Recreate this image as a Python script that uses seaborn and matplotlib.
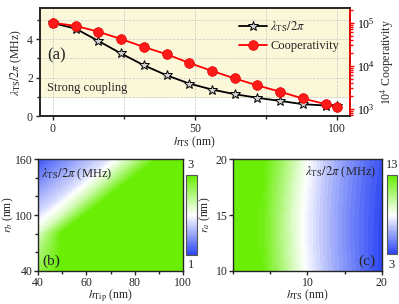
import numpy as np
import pandas as pd
import seaborn as sns
import matplotlib.pyplot as plt
from matplotlib.colors import LinearSegmentedColormap
from matplotlib.ticker import MultipleLocator, LogLocator, NullFormatter

# ---- panel (a) data ----
h_ts = [0, 8, 16, 24, 32, 40, 48, 56, 64, 72, 80, 88, 96, 100]
lam_ts = [4.83, 4.54, 3.90, 3.25, 2.64, 2.12, 1.69, 1.38, 1.14, 0.95, 0.79, 0.62, 0.55, 0.52]
coop = [1.0e5, 8.5e4, 6.2e4, 4.2e4, 2.75e4, 1.86e4, 1.17e4, 7.6e3, 5.1e3, 3.5e3, 2.5e3, 1.74e3, 1.29e3, 1.12e3]

# ---- panel (b) data: lambda_TS/2pi (MHz) vs h_Tip (cols) and r_b (rows) ----
h_tip = [40, 50, 60, 70, 80, 90, 100]
r_b = [40, 60, 80, 100, 120, 140, 160]
lam_b = [
    [2.70, 3.20, 3.60, 3.60, 3.60, 3.60, 3.60],
    [2.50, 3.20, 3.60, 3.60, 3.60, 3.60, 3.60],
    [2.19, 3.03, 3.60, 3.60, 3.60, 3.60, 3.60],
    [1.82, 2.25, 3.08, 3.60, 3.60, 3.60, 3.60],
    [1.57, 1.83, 2.31, 3.14, 3.60, 3.60, 3.60],
    [1.32, 1.59, 1.85, 2.36, 3.19, 3.60, 3.60],
    [1.08, 1.34, 1.61, 1.87, 2.42, 3.25, 3.60],
]

# ---- panel (c) data: lambda_TS/2pi (MHz) vs h_TS (cols) and r_a (rows) ----
h_ts_c = [0, 2, 4, 6, 8, 10, 12, 14, 16, 18, 20]
r_a = [10, 12.5, 15, 17.5, 20]
lam_c = [
    [16.2, 14.5, 12.8, 11.1, 9.3, 7.8, 6.6, 5.6, 4.7, 3.8, 3.0],
    [16.0, 14.3, 12.6, 10.9, 9.1, 7.6, 6.5, 5.5, 4.6, 3.8, 3.0],
    [16.0, 14.3, 12.6, 10.9, 9.0, 7.6, 6.5, 5.5, 4.6, 3.8, 3.1],
    [16.2, 14.5, 12.8, 11.1, 9.3, 7.8, 6.6, 5.6, 4.7, 3.9, 3.2],
    [16.5, 14.9, 13.2, 11.5, 9.8, 8.0, 6.8, 5.8, 4.9, 4.1, 3.4],
]

sns.set_theme(style="ticks")
plt.rcParams['font.family'] = ['Liberation Serif', 'DejaVu Serif']
plt.rcParams['mathtext.fontset'] = 'stix'
plt.rcParams['font.size'] = 8.5
plt.rcParams['xtick.labelsize'] = 8.5
plt.rcParams['ytick.labelsize'] = 8.5
plt.rcParams['axes.labelsize'] = 8.5

cmap = LinearSegmentedColormap.from_list('bwg', ['#2a45f5', '#ffffff', '#66ee00'])

fig = plt.figure(figsize=(3.99, 3.04), dpi=100)

# ================= panel (a) =================
ax = fig.add_axes([0.100, 0.618, 0.777, 0.355])
ax.axhspan(1, 6, color='#fbf8da', zorder=0)
df_a = pd.DataFrame({'h': h_ts, 'lam': lam_ts, 'coop': coop})
sns.lineplot(data=df_a, x='h', y='lam', ax=ax, color='black', lw=1.3,
             marker='*', markersize=7, markerfacecolor='#d0d0d0',
             markeredgecolor='black', markeredgewidth=0.7, label=r'$\lambda_{\rm TS}/2\pi$',
             legend=False, zorder=4)
ax.set_xlim(-4.6, 104.6)
ax.set_ylim(0, 5.6)
ax.set_yticks([0, 2, 4])
ax.yaxis.set_minor_locator(MultipleLocator(1))
ax.set_xticks([0, 50, 100])
ax.xaxis.set_minor_locator(MultipleLocator(25))
ax.grid(True, which='both', ls='--', lw=0.5, color='#c8c8c8')
ax.set_axisbelow(True)
ax.set_xlabel(r'$h_{\rm TS}$ (nm)', labelpad=0)
ax.set_ylabel(r'$\lambda_{\rm TS}/2\pi$ (MHz)', labelpad=2)
for s in ax.spines.values():
    s.set_linewidth(1.2)
ax.tick_params(length=3, width=1, pad=2)
ax.tick_params(which='minor', length=2)
ax.text(0.025, 0.565, '(a)', transform=ax.transAxes, fontsize=12, va='center')
ax.text(0.022, 0.26, 'Strong coupling', transform=ax.transAxes, fontsize=9, va='center')

ax2 = ax.twinx()
sns.lineplot(data=df_a, x='h', y='coop', ax=ax2, color='#ff0000', lw=1.3,
             marker='o', markersize=7, markerfacecolor='#ff1a1a',
             markeredgecolor='#e00000', markeredgewidth=0.5, label='Cooperativity',
             legend=False, zorder=5)
ax2.set_yscale('log')
ax2.set_ylim(10 ** 2.83, 10 ** 5.34)
ax2.yaxis.set_major_locator(LogLocator(base=10, numticks=10))
ax2.yaxis.set_minor_locator(LogLocator(base=10, subs=np.arange(2, 10), numticks=20))
ax2.yaxis.set_minor_formatter(NullFormatter())
ax2.spines['right'].set_color('#ff0000')
ax2.spines['right'].set_linewidth(1.2)
ax2.tick_params(axis='y', colors='#ff0000', labelcolor='black', length=3, width=1, pad=2)
ax2.tick_params(axis='y', which='minor', colors='#ff0000', length=2)
ax2.set_ylabel(r'10$^4$ Cooperativity', labelpad=3)
ax2.set_xlabel('')

h1, l1 = ax.get_legend_handles_labels()
h2, l2 = ax2.get_legend_handles_labels()
ax2.legend(h1 + h2, l1 + l2, loc='upper right', bbox_to_anchor=(0.99, 0.97),
           frameon=False, fontsize=9, handlelength=2.2, handletextpad=0.3,
           labelspacing=0.5, borderaxespad=0.2)


def heat_panel(rect, cbar_rect, xs, ys, vals, vmin, vmax):
    a = fig.add_axes(rect)
    X, Y = np.meshgrid(xs, ys)
    Z = np.clip(np.array(vals), vmin, vmax)
    m = a.contourf(X, Y, Z, levels=np.linspace(vmin, vmax, 41), cmap=cmap,
                   vmin=vmin, vmax=vmax)
    for s in a.spines.values():
        s.set_linewidth(1.0)
    a.tick_params(length=3, width=1, pad=1)
    a.tick_params(which='minor', length=2)
    cax = fig.add_axes(cbar_rect)
    cb = fig.colorbar(m, cax=cax)
    cb.set_ticks([])
    cb.outline.set_linewidth(0.8)
    cb.outline.set_edgecolor('#555555')
    return a, cax


# ================= panel (b) =================
axb, caxb = heat_panel([0.0952, 0.1086, 0.364, 0.368], [0.465, 0.161, 0.0275, 0.263],
                       h_tip, r_b, lam_b, 1, 3)
axb.set_xlim(40, 100)
axb.set_ylim(40, 160)
axb.set_xticks([40, 60, 80, 100])
axb.xaxis.set_minor_locator(MultipleLocator(10))
axb.set_yticks([40, 100, 160])
axb.yaxis.set_minor_locator(MultipleLocator(20))
axb.set_xlabel(r'$h_{\rm Tip}$ (nm)', labelpad=-1)
axb.set_ylabel(r'$r_b$ (nm)')
axb.yaxis.set_label_coords(-0.15, 0.5)
axb.text(0.02, 0.86, r'$\lambda_{\rm TS}/2\pi$ (MHz)', transform=axb.transAxes, fontsize=9, va='center')
axb.text(0.03, 0.09, '(b)', transform=axb.transAxes, fontsize=11, va='center')
fig.text(0.478, 0.458, '3', ha='center', va='center', fontsize=9)
fig.text(0.478, 0.128, '1', ha='center', va='center', fontsize=9)

# ================= panel (c) =================
axc, caxc = heat_panel([0.584, 0.1086, 0.373, 0.368], [0.970, 0.164, 0.025, 0.26],
                       h_ts_c, r_a, lam_c, 3, 13)
axc.set_xlim(0, 20)
axc.set_ylim(10, 20)
axc.set_xticks([10, 20])
axc.xaxis.set_minor_locator(MultipleLocator(5))
axc.set_yticks([10, 15, 20])
axc.set_xlabel(r'$h_{\rm TS}$ (nm)', labelpad=-1)
axc.set_ylabel(r'$r_a$ (nm)', labelpad=2)
axc.text(0.96, 0.88, r'$\lambda_{\rm TS}/2\pi$ (MHz)', transform=axc.transAxes, fontsize=9,
         va='center', ha='right')
axc.text(0.96, 0.09, '(c)', transform=axc.transAxes, fontsize=11, va='center', ha='right')
fig.text(0.982, 0.458, '13', ha='center', va='center', fontsize=9)
fig.text(0.982, 0.128, '3', ha='center', va='center', fontsize=9)

fig.savefig('out.png', dpi=100)
